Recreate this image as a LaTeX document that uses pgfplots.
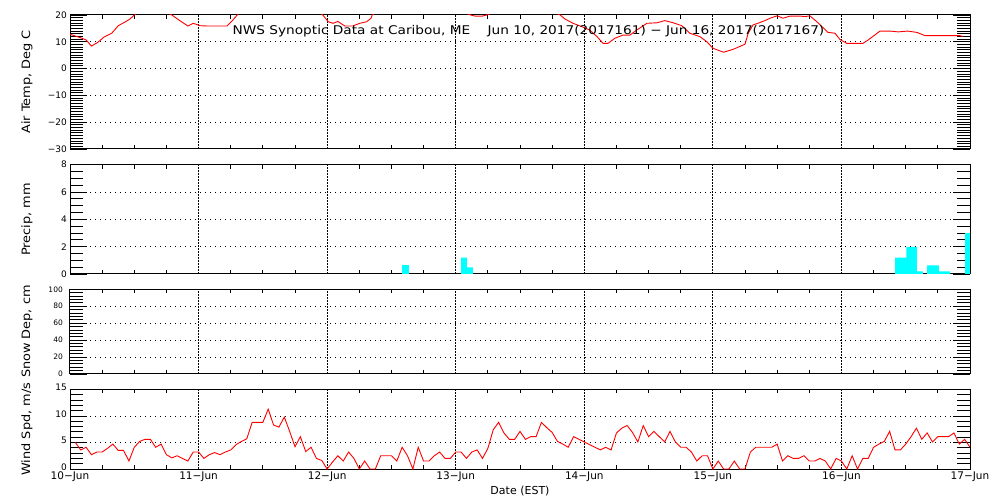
\documentclass[border=0pt]{standalone}
\usepackage{fontspec}
\setmainfont{DejaVu Sans}
\setsansfont{DejaVu Sans}
\usepackage{graphicx}
\usepackage{pgfplots}
\usepackage{pgfplotstable}
\pgfplotsset{compat=1.18}
\definecolor{pcyan}{RGB}{0,255,255}
\definecolor{pred}{RGB}{255,0,0}
\newcommand{\ylab}[1]{\scalebox{1.12}[1]{#1}}

\pgfplotstableread{
h t
0 12.8
2 11.5
3 10.7
4 8.4
5.2 9.8
6.3 11.7
7.8 13.2
9 16
10.3 17.4
11.2 18.5
12 20
13 21.5
15 23
17 22
18 21
19 20
20.5 17.9
22 15.9
23 16.9
24.3 16
25.6 15.9
29.3 15.9
30.4 18.1
31.2 20
32 21.5
36 24
40 25
44 23
46 21.5
47.2 20
48.2 17.5
49.1 16.9
50 17.6
51.3 15.9
52.8 15.9
54.1 16.9
55.4 17.5
56.2 18.8
56.4 20
58 22
62 24
66 25
70 24
73 21.5
74.8 20
75.6 19.6
77 19.6
77.8 20
80 22
84 24
88 23
90.5 21
91.5 20
92.4 18.5
93.9 16.9
95.6 15.6
97 14.4
98.4 11.9
99.5 9.4
100.4 9.4
101.7 11.3
103.2 12.5
104.5 12.5
105.8 14.4
107.7 16.9
109.6 17.1
111 17.9
112.6 17.1
114.2 16
115.7 13.2
117.6 11.9
118.9 10.0
120 7.6
122 6.1
123.8 7.2
126 9.1
126.6 13.2
127.5 16.3
128.4 16.9
129.7 17.9
130.7 18.8
132 19.7
133.1 18.8
134.4 19.6
136.3 19.6
137.2 19.4
138.1 19.7
139.4 17.5
141.5 13.5
142.8 13.2
143.7 10.9
145 9.4
148 9.4
149 10.7
151.2 14.0
153.1 14.0
154.6 13.7
156.4 14.0
158.1 13.5
159.6 12.3
166.1 12.3
166.7 12.0
}\temptable

\pgfplotstableread{
h w
1 5.0
2 3.6
3 4.1
4 2.7
5 3.2
6 3.2
7 3.9
8 4.7
9 3.5
10 3.5
11 1.5
12 4.1
13 5.2
14 5.6
15 5.6
16 4.1
17 4.7
18 2.7
19 2.1
20 2.5
21 2.0
22 1.5
23 3.2
24 3.2
25 2.0
26 2.7
27 3.1
28 2.7
29 3.2
30 3.6
31 4.6
32 5.2
33 5.7
34 8.8
35 8.8
36 8.8
37 11.3
38 8.3
39 7.9
40 9.8
41 7.1
42 4.2
43 6.1
44 3.3
45 4.1
46 2.0
47 1.6
48 0
49 1.3
50 2.5
51 1.5
52 3.2
53 2.0
54 0
55 1.5
56 0
57 0
58 2.5
59 2.5
60 2.5
61 1.5
62 4.1
63 2.5
64 0
65 4.1
66 1.5
67 1.5
68 2.5
69 3.2
70 2.0
71 2.0
72 3.2
73 3.2
74 2.0
75 3.2
76 3.6
77 2.0
78 3.9
79 7.4
80 8.8
81 6.8
82 5.6
83 5.6
84 7.1
85 5.6
86 6.1
87 6.1
88 8.8
89 7.8
90 6.9
91 5.2
92 4.7
93 4.1
94 6.1
95 5.6
96 5.1
97 4.6
98 4.1
99 3.6
100 4.1
101 3.6
102 6.8
103 7.7
104 8.2
105 6.9
106 5.1
107 8.2
108 6.1
109 7.1
110 6.1
111 5.1
112 7.1
113 5.1
114 4.1
115 4.1
116 3.2
117 1.5
118 2.5
119 2.5
120 0
121 1.5
122 0
123 0
124 1.5
125 0
126 0
127 3.2
128 4.1
129 4.1
130 4.1
131 4.1
132 4.7
133 1.5
134 2.5
135 2.0
136 2.0
137 2.5
138 1.5
139 1.5
140 2.0
141 1.5
142 0
143 2.0
144 1.5
145 0
146 2.5
147 0
148 2.0
149 2.0
150 4.1
151 4.7
152 5.2
153 7.1
154 3.6
155 3.6
156 4.7
157 6.1
158 7.7
159 5.6
160 6.8
161 5.1
162 6.1
163 6.1
164 6.1
165 6.8
166 4.7
167 5.6
168 4.1
}\windtable

\pgfplotsset{
  panel/.style={
    scale only axis, width=900pt, anchor=south west,
    xmin=0, xmax=168, xtick={0,24,...,168}, minor x tick num=3,
    xticklabels={},
    axis line style={line width=1pt, black},
    tick align=inside,
    major tick length=17pt, minor tick length=13pt,
    every tick/.style={black, line width=0.9pt},
    xtick style={/pgfplots/major tick length=0pt, /pgfplots/minor tick length=4pt},
    xmajorgrids=false, ymajorgrids=false,
    extra x ticks={24,48,...,144},
    extra x tick labels={},
    extra x tick style={xmajorgrids=true, /pgfplots/major tick length=0pt},
    major x grid style={black, line width=0.9pt, dash pattern=on 2pt off 1pt},
    major y grid style={black, line width=0.9pt, dash pattern=on 1pt off 4pt},
    every axis y label/.style={at={(axis description cs:-0.0478,0.5)}, rotate=90, anchor=center, font=\fontsize{11.5}{13}\selectfont},
    yticklabel style={font=\fontsize{9}{10}\selectfont, inner sep=0pt, xshift=-3pt},
    /pgf/number format/assume math mode=true,
  },
  pbar/.style={ybar interval, draw=none, fill=pcyan}
}

\begin{document}
\begin{tikzpicture}
\path (0pt,0pt) rectangle (1000pt,500pt);

% Air temperature
\begin{axis}[panel, at={(70pt,351pt)}, height=134pt,
  ymin=-30, ymax=20, ytick={-30,-20,...,20}, minor y tick num=9,
  yticklabels={−30,−20,−10,0,10,20},
  extra y ticks={-20,-10,0,10}, extra y tick labels={},
  extra y tick style={ymajorgrids=true},
  ylabel={\ylab{Air Temp, Deg C}}]
\addplot[pred, line width=0.9pt] table[x=h,y=t] {\temptable};
\node[anchor=base, inner sep=0pt, font=\fontsize{12}{13}\selectfont] at (axis description cs:0.5094,0.851) {\scalebox{1.14}[1]{NWS Synoptic Data at Caribou, ME\ \ \ \ Jun 10, 2017(2017161) − Jun 16, 2017(2017167)}};
\end{axis}

% Precip
\begin{axis}[panel, at={(70pt,226pt)}, height=109.3pt,
  ymin=0, ymax=8, ytick={0,2,...,8}, minor y tick num=3,
  extra y ticks={2,4,6}, extra y tick labels={},
  extra y tick style={ymajorgrids=true},
  ylabel={\ylab{Precip, mm}}]
\addplot[pbar] coordinates {(62,0.64) (63.3,0)};
\addplot[pbar] coordinates {(73,1.2) (74.1,0.48) (75.2,0)};
\addplot[pbar] coordinates {(154,1.2) (156.1,1.98) (158.1,0.2) (159.2,0)};
\addplot[pbar] coordinates {(160,0.64) (162.2,0.2) (164.3,0)};
\addplot[pbar] coordinates {(167.1,2.98) (168,0)};
\end{axis}

% Snow depth
\begin{axis}[panel, at={(70pt,126pt)}, height=84.7pt,
  ymin=0, ymax=100, ytick={0,20,...,100}, minor y tick num=4,
  yticklabel style={font=\fontsize{7.5}{8}\selectfont, xshift=-4pt},
  extra y ticks={20,40,60,80}, extra y tick labels={},
  extra y tick style={ymajorgrids=true},
  ylabel={\ylab{Snow Dep, cm}}]
\end{axis}

% Wind speed
\begin{axis}[panel, at={(70pt,31pt)}, height=79.5pt,
  ymin=0, ymax=15, ytick={0,5,10,15}, minor y tick num=4,
  yticklabel style={yshift=2pt},
  extra y ticks={5,10}, extra y tick labels={},
  extra y tick style={ymajorgrids=true},
  xticklabels={10−Jun,11−Jun,12−Jun,13−Jun,14−Jun,15−Jun,16−Jun,17−Jun},
  xticklabel style={font=\fontsize{10.5}{12}\selectfont, inner sep=0pt, yshift=-2.5pt},
  xlabel={Date (EST)},
  xlabel style={at={(axis description cs:0.5,0)}, anchor=north, yshift=-16.5pt, inner sep=0pt, font=\fontsize{11}{12}\selectfont},
  ylabel={\ylab{Wind Spd, m/s}}]
\addplot[pred, line width=0.9pt] table[x=h,y=w] {\windtable};
\end{axis}
\end{tikzpicture}
\end{document}
